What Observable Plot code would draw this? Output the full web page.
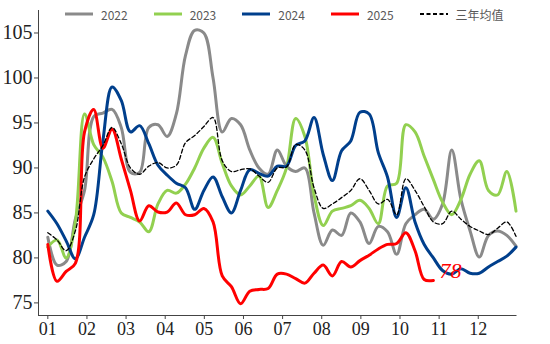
<!DOCTYPE html>
<html><head><meta charset="utf-8">
<script src="https://cdn.jsdelivr.net/npm/d3@7"></script>
<script src="https://cdn.jsdelivr.net/npm/@observablehq/plot@0.6"></script>
<style>
body{margin:0;background:#fff}
#wrap{position:relative;width:550px;height:344px}
#legend{position:absolute;top:5px;left:65px;display:flex;gap:26px;font-family:"Noto Sans CJK SC","Noto Sans",sans-serif;font-size:12px;color:#595959;align-items:center}
.item{display:flex;align-items:center;gap:8px;height:18px}
</style></head>
<body><div id="wrap"><div id="legend"></div></div>
<script>
const monthTicks = [1,2,3,4,5,6,7,8,9,10,11,12];
const monthLabels = ["01","02","03","04","05","06","07","08","09","10","11","12"];
const yTicks = [75,80,85,90,95,100,105];

const gray2022 = [82.3,79.2,79.6,84.3,87.5,95.7,96.1,96.5,94.5,89.5,89.5,94.5,94.8,93.5,96.0,102.5,105.3,105.0,100.0,94.0,95.5,94.8,92.0,90.0,89.3,92.0,90.2,89.6,90.0,85.0,81.4,83.1,82.5,85.0,84.0,81.6,83.5,82.9,80.4,83.8,84.8,85.4,84.3,86.0,92.0,86.5,83.0,80.1,82.5,83.0,82.5,81.3];
const green2023 = [81.2,82.0,80.0,84.0,96.0,92.6,91.2,88.5,85.0,84.5,84.0,82.9,86.0,87.5,87.2,88.2,90.0,92.2,93.4,90.5,88.0,87.0,88.0,89.1,85.6,87.5,90.0,95.5,93.5,87.0,83.6,85.2,85.5,85.8,86.4,85.5,83.8,88.0,88.3,94.8,94.0,91.3,88.7,86.2,84.8,86.5,89.3,90.8,87.5,87.0,89.6,85.2];
const blue2024 = [85.2,83.8,81.9,79.9,82.3,84.8,93.0,99.0,97.5,94.0,94.7,92.7,90.3,89.2,88.3,87.8,85.4,87.5,89.0,86.8,85.0,87.5,89.8,89.4,89.1,90.2,90.2,92.5,93.0,95.6,91.5,88.6,91.9,93.0,96.2,96.0,91.7,89.0,84.5,87.8,84.0,81.5,80.0,78.6,78.2,78.8,78.3,78.3,79.0,79.6,80.2,81.2];
const red2025 = [81.5,77.4,78.5,79.4,94.0,96.5,92.2,94.3,91.0,87.5,84.1,85.8,85.1,85.1,86.1,84.8,84.8,85.5,84.0,78.0,76.8,74.9,76.3,76.5,76.6,78.2,78.2,77.7,77.2,78.3,79.2,78.0,79.6,79.0,79.7,80.3,81.0,81.5,81.6,82.8,80.8,77.6,77.5];
const avg3 = [82.8,82.0,80.8,83.0,89.0,91.0,92.5,94.5,92.7,90.0,89.3,90.2,90.6,90.0,90.3,92.8,93.6,94.6,95.6,90.8,89.6,89.8,89.9,89.1,88.4,90.0,90.1,92.6,92.0,87.8,85.5,86.0,86.7,87.5,88.8,87.5,86.0,86.5,84.8,88.8,87.5,85.7,84.0,83.8,85.2,84.3,83.5,83.0,82.6,83.3,84.0,82.4];

const seriesNames = ["2022","2023","2024","2025","三年均值"];
const seriesColors = ["#8a8a8a","#92d050","#003f8c","#ff0000","#000000"];

const weekPos = d3.range(52).map(i => 1 + i * 0.2346);
const rows = vals => vals.map((v, i) => ({x: weekPos[i], y: v}));
const xDom = [0.762, 12.99], yDom = [73.6, 107.5];
const lastRed = rows(red2025).slice(-1);

const base = {x: "x", y: "y", curve: "catmull-rom"};
const chart = Plot.plot({
  width: 550, height: 344,
  marginLeft: 38, marginRight: 33.5, marginTop: 10, marginBottom: 29,
  style: {fontFamily: "Liberation Serif, serif", background: "transparent", color: "#222"},
  x: {domain: xDom},
  y: {domain: yDom},
  marks: [
    Plot.axisY({ticks: yTicks, tickSize: 4, tickPadding: 2, fontSize: 20, label: null, stroke: "#444"}),
    Plot.axisX({ticks: monthTicks, tickFormat: d => monthLabels[d - 1], tickSize: 4, tickPadding: 3, fontSize: 18, label: null, stroke: "#444"}),
    Plot.ruleX([xDom[0]], {stroke: "#444"}),
    Plot.ruleY([yDom[0]], {stroke: "#444"}),
    Plot.line(rows(gray2022), {...base, stroke: seriesColors[0], strokeWidth: 3}),
    Plot.line(rows(green2023), {...base, stroke: seriesColors[1], strokeWidth: 3}),
    Plot.line(rows(blue2024), {...base, stroke: seriesColors[2], strokeWidth: 3}),
    Plot.line(rows(red2025), {...base, stroke: seriesColors[3], strokeWidth: 3}),
    Plot.line(rows(avg3), {...base, stroke: seriesColors[4], strokeWidth: 1.3, strokeDasharray: "4,2.5"}),
    Plot.text(lastRed, {x: "x", y: "y", text: d => String(Math.round(d.y)), fill: "#ff0000", fontStyle: "italic", fontSize: 22, textAnchor: "start", dx: 6, dy: -9})
  ]
});
document.getElementById("wrap").appendChild(chart);

const legend = document.getElementById("legend");
seriesNames.forEach((name, i) => {
  const item = document.createElement("div");
  item.className = "item";
  const dashed = i === 4;
  item.innerHTML = `<svg width="28" height="10"><line x1="0" x2="28" y1="5" y2="5" stroke="${seriesColors[i]}" stroke-width="${dashed ? 1.8 : 3}" ${dashed ? 'stroke-dasharray="4,2.5"' : ''}/></svg><span>${name}</span>`;
  legend.appendChild(item);
});
</script>
</body></html>
